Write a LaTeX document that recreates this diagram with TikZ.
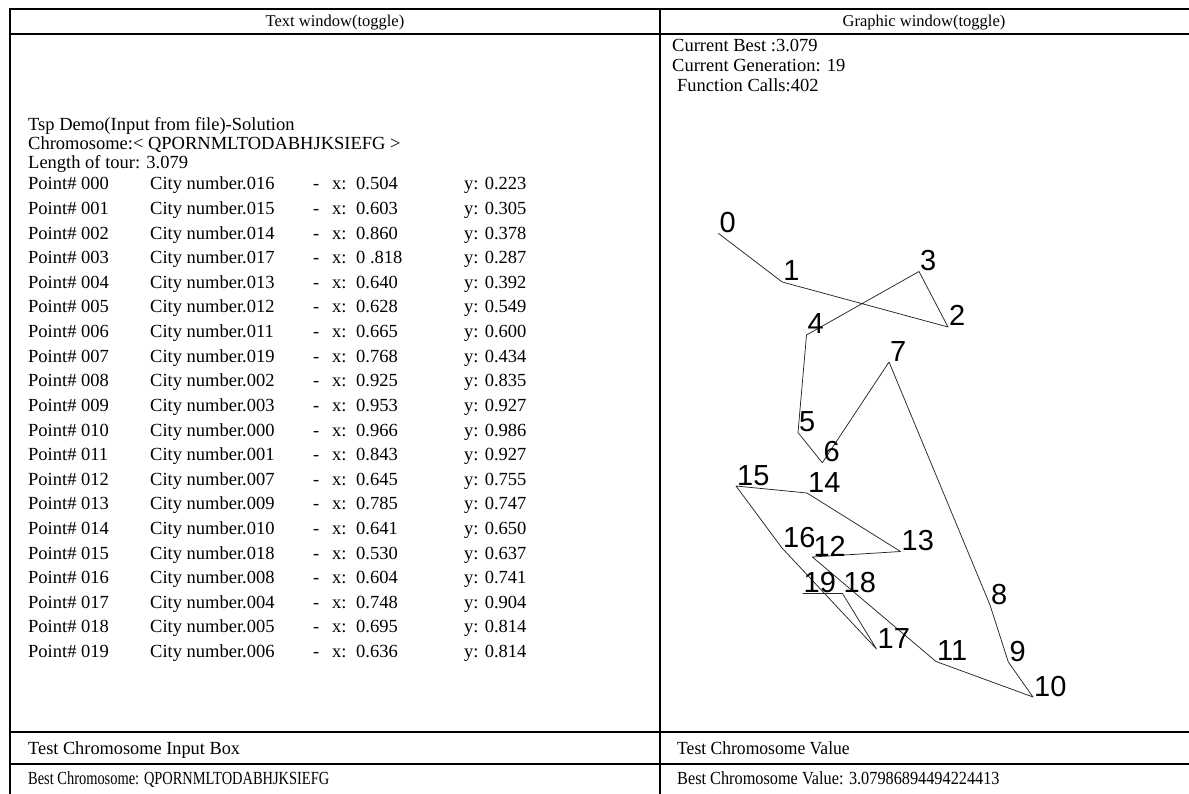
\documentclass[tikz,border=0pt]{standalone}
\usepackage{fontspec}
\setmainfont{Liberation Serif}
\newfontfamily\arialf{Liberation Sans}
\begin{document}
\begin{tikzpicture}[x=1pt,y=-1pt,
  tx/.style={font=\fontsize{18.5}{21}\selectfont, anchor=base west, inner sep=0pt},
  txc/.style={font=\fontsize{16.5}{20}\selectfont, anchor=base, inner sep=0pt},
  txn/.style={font=\fontsize{18.5}{21}\selectfont, anchor=base west, inner sep=0pt},
  lbl/.style={font=\arialf\fontsize{29}{32}\selectfont, anchor=base west, inner sep=0pt},
  border/.style={line width=2.2pt},
  tour/.style={line width=0.75pt, black!85, line join=round}]
\useasboundingbox (0,0) rectangle (1189,794);
% table frame
\coordinate (tl) at (10,9);
\coordinate (tr) at (1192,9);
\coordinate (hl) at (10,34);
\coordinate (hr) at (1192,34);
\coordinate (ml) at (10,732);
\coordinate (mr) at (1192,732);
\coordinate (nl) at (10,764);
\coordinate (nr) at (1192,764);
\coordinate (bl) at (10,797);
\coordinate (br) at (1192,797);
\coordinate (vt) at (660,9);
\coordinate (vb) at (660,797);
\draw[border] (bl) -- (tl) -- (tr) -- (br) -- cycle;
\draw[border] (hl) -- (hr);
\draw[border] (ml) -- (mr);
\draw[border] (nl) -- (nr);
\draw[border] (vt) -- (vb);
% headers
\node[txc] (h1) at (335,27) {Text window(toggle)};
\node[txc] (h2) at (924,27) {Graphic window(toggle)};
% text window
\node[tx] (t1) at (28,131) {Tsp Demo(Input from file)-Solution};
\node[tx] (t2) at (28,150) {Chromosome:< QPORNMLTODABHJKSIEFG >};
\node[tx] (t3) at (28,169) {Length of tour: 3.079};
\foreach \i/\c/\xv/\yv [count=\k from 0] in {000/016/0.504/0.223, 001/015/0.603/0.305, 002/014/0.860/0.378, 003/017/0 .818/0.287, 004/013/0.640/0.392, 005/012/0.628/0.549, 006/011/0.665/0.600, 007/019/0.768/0.434, 008/002/0.925/0.835, 009/003/0.953/0.927, 010/000/0.966/0.986, 011/001/0.843/0.927, 012/007/0.645/0.755, 013/009/0.785/0.747, 014/010/0.641/0.650, 015/018/0.530/0.637, 016/008/0.604/0.741, 017/004/0.748/0.904, 018/005/0.695/0.814, 019/006/0.636/0.814}{
  \node[tx] (pa\k) at (28,{190+24.6*\k}) {Point\# \i};
  \node[tx] (pb\k) at (150,{190+24.6*\k}) {City number.\c};
  \node[tx] (pc\k) at (313,{190+24.6*\k}) {-};
  \node[tx] (pd\k) at (332,{190+24.6*\k}) {x:};
  \node[tx] (pe\k) at (356,{190+24.6*\k}) {\xv};
  \node[tx] (pf\k) at (464,{190+24.6*\k}) {y: \yv};
}
% graphic window texts
\node[tx] (g1) at (672,52) {Current Best :3.079};
\node[tx] (g2) at (672,72) {Current Generation: 19};
\node[tx] (g3) at (677,92) {Function Calls:402};
% bottom rows
\node[txn, xscale=0.99] (b1) at (28,754) {Test Chromosome Input Box};
\node[txn, xscale=0.95] (b2) at (677,754) {Test Chromosome Value};
\node[txn, xscale=0.78] (b3) at (28,784) {Best Chromosome: QPORNMLTODABHJKSIEFG};
\node[txn, xscale=0.88] (b4) at (677,784) {Best Chromosome Value: 3.07986894494224413};
% tour vertices
\coordinate (v0) at (718.3,233.3);
\coordinate (v1) at (782.2,282);
\coordinate (v2) at (948,327);
\coordinate (v3) at (919,271.5);
\coordinate (v4) at (806.5,335);
\coordinate (v5) at (798,432.5);
\coordinate (v6) at (822.3,462.8);
\coordinate (v7) at (889,362);
\coordinate (v8) at (990,605);
\coordinate (v9) at (1008.3,662);
\coordinate (v10) at (1033,697);
\coordinate (v11) at (936,661.5);
\coordinate (v12) at (812.4,557);
\coordinate (v13) at (900.5,551.5);
\coordinate (v14) at (807,493);
\coordinate (v15) at (736,486);
\coordinate (v16) at (782,548);
\coordinate (v17) at (876.5,649);
\coordinate (v18) at (842.5,593.5);
\coordinate (v19) at (802.5,593.5);
\draw[tour] (v0) -- (v1) -- (v2) -- (v3) -- (v4) -- (v5) -- (v6) -- (v7) -- (v8) -- (v9) -- (v10) -- (v11) -- (v12) -- (v13) -- (v14) -- (v15) -- (v16) -- (v17) -- (v18) -- (v19);
\foreach \n in {0,...,19}{
  \node[lbl] (l\n) at ([shift={(1,-1)}]v\n) {\n};
}
\end{tikzpicture}
\end{document}
